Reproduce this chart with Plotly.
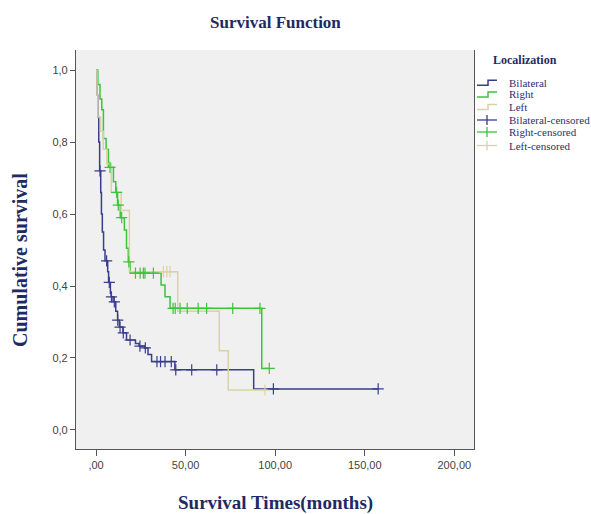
import plotly.graph_objects as go

# ---------------- data ----------------
# Step curves: time (months) at which survival changes, and survival after that time
bil_t = [0, 0.5, 1.0, 1.5, 2.0, 2.6, 3.0, 3.5, 4.2, 5.0, 6.5, 7.0, 8.0, 8.4, 9.5, 11.0, 12.0, 13.0, 15.0, 17.0, 22.0, 24.0, 27.0, 29.0, 31.0, 44.0, 88.0]
bil_s = [1.0, 0.93, 0.87, 0.80, 0.72, 0.66, 0.60, 0.55, 0.50, 0.47, 0.44, 0.41, 0.38, 0.37, 0.356, 0.33, 0.305, 0.286, 0.27, 0.25, 0.24, 0.233, 0.228, 0.21, 0.19, 0.167, 0.114]
bil_cens = [2.2, 5.9, 7.4, 8.6, 10.2, 12.1, 13.4, 15.2, 19.0, 24.5, 27.5, 34.0, 36.0, 38.5, 42.0, 44.5, 53.4, 67.4, 99.0, 157.5]

right_t = [0, 1.0, 2.2, 3.2, 4.1, 5.6, 6.9, 9.7, 11.0, 12.0, 13.5, 15.8, 17.0, 18.0, 19.0, 36.3, 38.5, 41.3, 92.5]
right_s = [1.0, 0.96, 0.92, 0.89, 0.81, 0.78, 0.73, 0.69, 0.66, 0.625, 0.59, 0.556, 0.505, 0.467, 0.436, 0.403, 0.37, 0.338, 0.171]
right_cens = [7.8, 11.5, 12.4, 14.3, 18.3, 22.0, 24.6, 26.4, 27.3, 32.0, 43.0, 44.2, 46.9, 50.9, 57.0, 61.7, 76.3, 91.5, 96.7]

left_t = [0, 0.5, 1.0, 2.5, 4.0, 6.0, 8.5, 14.0, 18.6, 45.6, 68.8, 73.8]
left_s = [1.0, 0.93, 0.87, 0.83, 0.78, 0.74, 0.66, 0.61, 0.44, 0.33, 0.22, 0.111]
left_cens = [37.6, 39.5, 41.3, 94.3]

group_names = ["Bilateral", "Right", "Left"]
group_colors = ["#3a3d8e", "#3cc43c", "#d8d3a4"]

x_tickvals = [0, 50, 100, 150, 200]
x_ticktext = [",00", "50,00", "100,00", "150,00", "200,00"]
y_tickvals = [0.0, 0.2, 0.4, 0.6, 0.8, 1.0]
y_ticktext = ["0,0", "0,2", "0,4", "0,6", "0,8", "1,0"]


def surv_at(ts, ss, t):
    val = ss[0]
    for ti, si in zip(ts, ss):
        if ti <= t:
            val = si
    return val


def extend(ts, ss, cens):
    last = max(cens) if cens else ts[-1]
    if last > ts[-1]:
        return ts + [last], ss + [ss[-1]]
    return ts, ss


fig = go.Figure()
groups = [(bil_t, bil_s, bil_cens), (right_t, right_s, right_cens), (left_t, left_s, left_cens)]
for (ts, ss, cens), name, col in zip(groups, group_names, group_colors):
    xt, ys = extend(ts, ss, cens)
    fig.add_trace(go.Scatter(x=xt, y=ys, mode="lines", line=dict(color=col, width=1.5, shape="hv"),
                             name=name, showlegend=False))
for (ts, ss, cens), name, col in list(zip(groups, group_names, group_colors))[::-1]:
    fig.add_trace(go.Scatter(x=cens, y=[surv_at(ts, ss, c) for c in cens], mode="markers",
                             marker=dict(symbol="cross-thin", size=8, line=dict(color=col, width=1.2)),
                             name=name + "-censored", showlegend=False))

# ---------------- layout ----------------
L, R, T, B = 76, 117, 50, 65
W, H = 591, 514
pw, ph = W - L - R, H - T - B


def px2x(px):
    return (px - L) / pw


def py2y(py):
    return (H - B - py) / ph


axis_font = dict(family="Liberation Sans, Arial", size=11, color="#444444")
fig.update_layout(
    width=W, height=H, margin=dict(l=L, r=R, t=T, b=B),
    paper_bgcolor="white", plot_bgcolor="#f0f0f0",
    xaxis=dict(range=[-11.2, 211], tickvals=x_tickvals, ticktext=x_ticktext, ticks="outside",
               ticklen=6, tickcolor="#555555", showgrid=False, zeroline=False, showline=True,
               linecolor="#555555", linewidth=1.2, tickfont=axis_font),
    yaxis=dict(range=[-0.053, 1.056], tickvals=y_tickvals, ticktext=y_ticktext, ticks="outside",
               ticklen=5, tickcolor="#555555", showgrid=False, zeroline=False, showline=True,
               mirror=True, linecolor="#555555", linewidth=1.2, tickfont=axis_font),
    showlegend=False,
)

title_col = "#1f2a63"
ann = [
    dict(text="<b>Survival Function</b>", x=px2x(275), y=py2y(22), font=dict(size=17)),
    dict(text="<b>Cumulative survival</b>", x=px2x(20), y=py2y(260), textangle=-90, font=dict(size=20)),
    dict(text="<b>Survival Times(months)</b>", x=px2x(275), y=py2y(503), font=dict(size=19)),
    dict(text="<b>Localization</b>", x=px2x(525), y=py2y(60), font=dict(size=12)),
]
for a in ann:
    a.update(xref="paper", yref="paper", showarrow=False, xanchor="center", yanchor="middle")
    a["font"].update(family="Liberation Serif, Times New Roman", color=title_col)
    fig.add_annotation(**a)

# manual legend (step icons and + icons)
leg_labels = group_names + [n + "-censored" for n in group_names]
leg_colors = group_colors + group_colors
leg_y = [82.7, 94.5, 107, 120, 132, 145.5]
for i, (lab, col, yy) in enumerate(zip(leg_labels, leg_colors, leg_y)):
    fig.add_annotation(text=lab, xref="paper", yref="paper", x=px2x(508), y=py2y(yy), showarrow=False,
                       xanchor="left", yanchor="middle", borderpad=0,
                       font=dict(family="Liberation Serif, Times New Roman", size=11, color="#2b3070"))
    if i < 3:
        path = "M {:.4f},{:.4f} L {:.4f},{:.4f} L {:.4f},{:.4f} L {:.4f},{:.4f}".format(
            px2x(477), py2y(yy + 2.5), px2x(488), py2y(yy + 2.5), px2x(488), py2y(yy - 2.5), px2x(497), py2y(yy - 2.5))
        fig.add_shape(type="path", path=path, xref="paper", yref="paper", line=dict(color=col, width=1.5))
    else:
        fig.add_shape(type="line", xref="paper", yref="paper", x0=px2x(477), x1=px2x(497), y0=py2y(yy), y1=py2y(yy),
                      line=dict(color=col, width=1.3))
        fig.add_shape(type="line", xref="paper", yref="paper", x0=px2x(487), x1=px2x(487), y0=py2y(yy - 5), y1=py2y(yy + 5),
                      line=dict(color=col, width=1.3))

fig.write_html("out.html")
